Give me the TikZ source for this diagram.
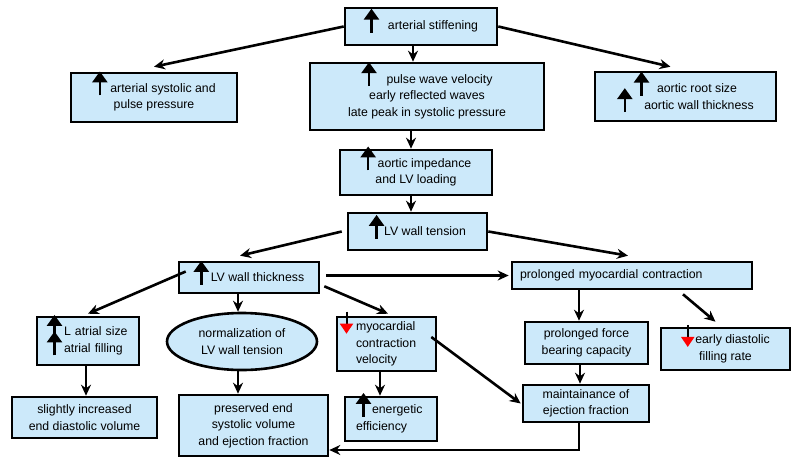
\documentclass[tikz,border=0pt]{standalone}
\usepackage{fontspec}
\setmainfont{Liberation Sans}
\usetikzlibrary{arrows.meta,shapes.geometric}

\definecolor{boxblue}{RGB}{204,233,250}

% small "increase" / "decrease" marks used inside the boxes
\newcommand{\upmark}{\smash{\tikz[baseline=0pt]{\path (-6pt,0pt) (6pt,0pt);
  \draw[line width=2.6pt,-{Triangle[length=11pt,width=15pt]}] (0pt,-3pt) -- (0pt,21pt);}}}
\newcommand{\downmark}{\smash{\tikz[baseline=0pt]{\path (-5.5pt,0pt) (5.5pt,0pt);
  \draw[line width=2pt,-{Triangle[length=10pt,width=13pt,color=red]}] (0pt,19pt) -- (0pt,-3pt);}}}

\tikzset{
  box/.style={draw, line width=2.6pt, fill=boxblue, inner sep=3pt, align=center},
  leftbox/.style={box, align=left},
  ellbox/.style={ellipse, draw, line width=2.6pt, fill=boxblue, inner sep=0pt, align=center},
  conn/.style={line width=2.6pt, -{Stealth[length=11pt,width=10pt]}},
}

\begin{document}
\begin{tikzpicture}[x=1pt, y=-1pt, font=\fontsize{12.3}{16.5}\selectfont]
    % picture units: 1 unit = 1 pixel of the 800 x 464 layout, y pointing down
    \useasboundingbox (0,0) rectangle (800,464);

    % --- TOP: ARTERIAL STIFFENING AND ITS DIRECT EFFECTS ---
    \node[box, minimum width=152pt, minimum height=37pt] (stiff) at (421,26.5)
        {\upmark\hspace{9pt}arterial stiffening};
    \node[box, minimum width=166pt, minimum height=49pt] (sysp) at (154,97.5)
        {\upmark\hspace{3pt}arterial systolic and\\pulse pressure};
    \node[box, minimum width=234pt, minimum height=67pt] (pwv) at (427,96.5)
        {\upmark\hspace{10pt}pulse wave velocity\\early reflected waves\\late peak in systolic pressure};
    \node[box, minimum width=181pt, minimum height=49pt] (root) at (685.5,96.5)
        {\upmark\hspace{8pt}aortic root size\\\upmark\hspace{12pt}aortic wall thickness};

    % --- MIDDLE: LOADING OF THE LEFT VENTRICLE ---
    \node[box, minimum width=152pt, minimum height=45pt] (imped) at (416,172.5)
        {\upmark\hspace{2pt}aortic impedance\\and LV loading};
    \node[box, minimum width=139pt, minimum height=37pt] (tens) at (417.5,231.5)
        {\upmark LV wall tension};
    \node[box, minimum width=140pt, minimum height=31pt] (thick) at (249,277.5)
        {\upmark\hspace{2pt}LV wall thickness};
    \node[leftbox, text width=224pt, inner xsep=8pt, minimum height=27pt] (prol) at (632,275.5)
        {prolonged myocardial contraction};

    % --- LOWER ROWS: CONSEQUENCES ---
    \node[leftbox, text width=82pt, inner xsep=10pt, minimum height=48pt] (atrial) at (88,341)
        {\upmark\hspace{2pt}L atrial size\\\upmark\hspace{2pt}atrial filling};
    \node[ellbox, minimum width=150pt, minimum height=57pt] (norm) at (242,341.5)
        {normalization of\\LV wall tension};
    \node[leftbox, text width=61pt, inner xsep=19pt, minimum height=54pt] (myo) at (386.5,344)
        {\llap{\downmark\hspace{3pt}}myocardial\\contraction\\velocity};
    \node[box, minimum width=123pt, minimum height=42pt] (force) at (586.5,343)
        {prolonged force\\bearing capacity};
    \node[box, minimum width=129pt, minimum height=42pt] (early) at (725.5,349)
        {\downmark\hspace{1pt}early diastolic\\filling rate};

    \node[box, minimum width=145pt, minimum height=41pt] (edv) at (84.5,417.5)
        {slightly increased\\end diastolic volume};
    \node[box, minimum width=149pt, minimum height=61pt] (pres) at (253.5,425.5)
        {preserved end\\systolic volume\\and ejection fraction};
    \node[leftbox, text width=70pt, inner xsep=11pt, minimum height=44pt] (energ) at (391,419)
        {\upmark\hspace{1pt}energetic\\efficiency};
    \node[box, minimum width=126pt, minimum height=37pt] (maint) at (586,403.5)
        {maintainance of\\ejection fraction};

    % --- CONNECTORS ---
    \draw[conn] (stiff.west) -- ([yshift=5pt]sysp.north);
    \draw[conn] (stiff.east) -- ([xshift=-15pt,yshift=4pt]root.north);
    \draw[conn] ([xshift=-8pt]stiff.south) -- ([xshift=-8pt]stiff.south |- pwv.north);
    \draw[conn] ([xshift=-16pt]pwv.south) -- ([xshift=-16pt]pwv.south |- imped.north);
    \draw[conn] ([xshift=-5pt]imped.south) -- ([xshift=-5pt]imped.south |- tens.north);

    \draw[conn] ([xshift=-5pt]tens.west) -- ([xshift=-9pt,yshift=5pt]thick.north);
    \draw[conn] (tens.east) -- ([xshift=-4pt,yshift=5pt]prol.north);
    \draw[conn] ([xshift=6pt]thick.east |- prol.west) -- ([xshift=-2pt]prol.west);

    \draw[conn] ([xshift=8pt,yshift=6pt]thick.west) -- ([yshift=2pt]atrial.north);
    \draw[conn] ([xshift=-11pt]thick.south) -- ([xshift=-11pt]thick.south |- norm.north);
    \draw[conn] ([xshift=4pt,yshift=8pt]thick.south east) -- ([xshift=1.5pt,yshift=2pt]myo.north);
    \draw[conn] ([xshift=-7.5pt]force.north |- prol.south) -- ([xshift=-7.5pt]force.north);
    \draw[conn] ([xshift=51pt,yshift=-4pt]prol.south) -- ([xshift=-10pt,yshift=5pt]early.north);

    \draw[conn] ([xshift=-2pt]atrial.south) -- ([xshift=-2pt]atrial.south |- edv.north);
    \draw[conn] ([xshift=-4pt]norm.south) -- ([xshift=-4pt]norm.south |- pres.north);
    \draw[conn] ([xshift=-6.5pt]myo.south) -- ([xshift=-6.5pt]myo.south |- energ.north);
    \draw[conn] ([xshift=-6pt,yshift=7pt]myo.east) -- ([xshift=-1pt]maint.west);
    \draw[conn] ([xshift=-6.5pt]force.south) -- ([xshift=-6.5pt]force.south |- maint.north);
    \draw[conn] ([xshift=-7pt]maint.south) |- ([yshift=-24.5pt]pres.east);
\end{tikzpicture}
\end{document}
